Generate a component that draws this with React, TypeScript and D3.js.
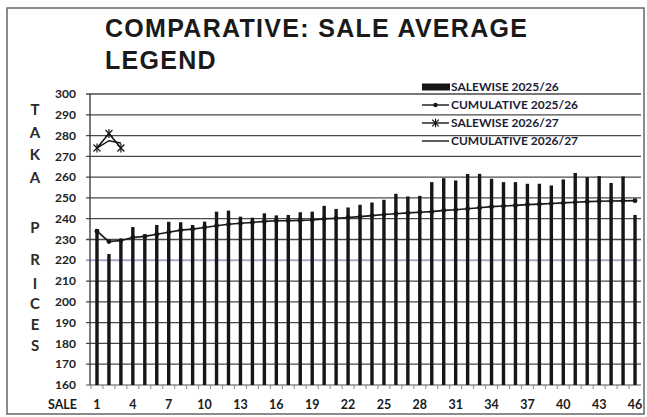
import * as d3 from 'd3';

// sale numbers 1..46
const sales = d3.range(1, 47);
const xTickSales = [1, 4, 7, 10, 13, 16, 19, 22, 25, 28, 31, 34, 37, 40, 43, 46];
const yTicks = [160, 170, 180, 190, 200, 210, 220, 230, 240, 250, 260, 270, 280, 290, 300];

// SALEWISE 2025/26 (bars)
const salewise2526 = [
  235, 223, 229, 236, 232.5, 237, 238.5, 238.3, 237, 238.6,
  243.4, 243.9, 241, 240.5, 242.6, 241.6, 241.8, 243.1, 243.4, 246.2,
  244.7, 245.4, 246.7, 247.8, 249.1, 252, 250.7, 251, 257.6, 259.5,
  258.4, 261.5, 261.6, 259.2, 257.6, 257.6, 256.8, 256.8, 256, 258.9,
  262, 260, 260.5, 257.2, 260.3, 241.8,
];

// CUMULATIVE 2025/26
const cumulative2526 = [
  234, 229, 229.5, 231, 231.5, 232.5, 233.5, 234.5, 235, 235.8,
  236.6, 237.3, 237.8, 238.2, 238.7, 239, 239, 239.2, 239.4, 239.9,
  240.2, 240.6, 241, 241.5, 242, 242.4, 242.8, 243.1, 243.4, 244,
  244.3, 244.8, 245.3, 245.8, 246.1, 246.4, 246.8, 247, 247.3, 247.6,
  247.9, 248.2, 248.4, 248.5, 248.6, 248.7,
];

// 2026/27 season so far
const salewise2627 = [274, 281, 274];
const cumulative2627 = [274, 277.5, 276.4];

const legendItems = ['SALEWISE 2025/26', 'CUMULATIVE 2025/26', 'SALEWISE 2026/27', 'CUMULATIVE 2026/27'];
const axisLetters = ['T', 'A', 'K', 'A', 'P', 'R', 'I', 'C', 'E', 'S'];
const axisLetterY = [110, 133, 155, 178, 228, 260, 284, 304, 325, 346];

const width = 647;
const height = 417;
const plot = { left: 91, right: 641, top: 94, bottom: 385 };
const ink = '#161616';
const labelFont = 'Lato, "Open Sans", sans-serif';

export default function App() {
  const x = d3.scaleBand<number>().domain(sales).range([plot.left, plot.right]);
  const cx = (s: number) => (x(s) as number) + x.bandwidth() / 2;
  const y = d3.scaleLinear().domain([160, 300]).range([plot.bottom, plot.top]);

  const line = d3.line<number>()
    .x((_, i) => cx(sales[i]))
    .y(d => y(d));

  const asterisk = (px: number, py: number, r: number, key: string) => (
    <g key={key} stroke={ink} strokeWidth={1.2}>
      <line x1={px - r} y1={py - r} x2={px + r} y2={py + r} />
      <line x1={px - r} y1={py + r} x2={px + r} y2={py - r} />
      <line x1={px} y1={py - r - 1} x2={px} y2={py + r + 1} />
    </g>
  );

  const legendX = 422;
  const legendY = [87, 105, 123, 141];

  return (
    <svg width={width} height={height} style={{ position: 'absolute', left: 0, top: 0, background: '#fff' }}>
      <rect x={7} y={8} width={637} height={406} fill="#fff" stroke="#666" strokeWidth={1.5} />

      {/* title */}
      <text x={105} y={37} fontFamily='"Liberation Sans", Arial, sans-serif' fontWeight="bold"
        fontSize={25} letterSpacing={1.3} fill="#1a1a1a">COMPARATIVE: SALE AVERAGE</text>
      <text x={105} y={69} fontFamily='"Liberation Sans", Arial, sans-serif' fontWeight="bold"
        fontSize={25} letterSpacing={1.3} fill="#1a1a1a">LEGEND</text>

      {/* horizontal grid */}
      {yTicks.map(t => (
        <g key={t}>
          <line x1={plot.left - 5} x2={plot.right} y1={y(t)} y2={y(t)}
            stroke={t === 220 ? '#a7abc9' : t === 160 ? '#8a8a8a' : '#4a4a4a'} strokeWidth={t === 220 ? 2 : 1.3} />
          <text x={76} y={y(t)} dy="0.35em" textAnchor="end" fontFamily={labelFont} fontWeight="bold"
            fontSize={12} fill="#222">{t}</text>
        </g>
      ))}
      <line x1={plot.left - 1} x2={plot.left - 1} y1={plot.top} y2={plot.bottom} stroke="#333" strokeWidth={1.3} />

      {/* x ticks */}
      {sales.map(s => (
        <line key={s} x1={x(s) as number} x2={x(s) as number} y1={plot.bottom} y2={plot.bottom + 4}
          stroke="#888" strokeWidth={1} />
      ))}
      {xTickSales.map(s => (
        <text key={s} x={cx(s)} y={409} textAnchor="middle" fontFamily={labelFont} fontWeight="bold"
          fontSize={12.5} fill="#1a1a1a">{s}</text>
      ))}
      <text x={77} y={409} textAnchor="end" fontFamily={labelFont} fontWeight="bold" fontSize={12.5} fill="#1a1a1a">SALE</text>

      {/* y axis title letters */}
      {axisLetters.map((l, i) => (
        <text key={i} x={35} y={axisLetterY[i]} dy="0.35em" textAnchor="middle" fontFamily={labelFont}
          fontWeight="bold" fontSize={15} fill="#2a2a2a">{l}</text>
      ))}

      {/* salewise 2025/26 bars */}
      {salewise2526.map((v, i) => (
        <rect key={i} x={cx(sales[i]) - 1.7} width={3.4} y={y(v)} height={y(160) - y(v)} fill={ink} />
      ))}

      {/* cumulative 2025/26 */}
      <path d={line(cumulative2526) ?? ''} fill="none" stroke={ink} strokeWidth={1.6} />
      {cumulative2526.map((v, i) => (
        <circle key={i} cx={cx(sales[i])} cy={y(v)} r={2.4} fill={ink} />
      ))}

      {/* 2026/27 */}
      <path d={line(cumulative2627) ?? ''} fill="none" stroke={ink} strokeWidth={1.4} />
      <path d={line(salewise2627) ?? ''} fill="none" stroke={ink} strokeWidth={1.6} />
      {salewise2627.map((v, i) => asterisk(cx(sales[i]), y(v), 3.5, 'a' + i))}

      {/* legend */}
      <g fontFamily={labelFont} fontWeight="bold" fontSize={12} fill="#1c1c38">
        <rect x={legendX} y={legendY[0] - 3.5} width={28} height={7} fill={ink} />
        <line x1={legendX} x2={legendX + 27} y1={legendY[1]} y2={legendY[1]} stroke={ink} strokeWidth={1.4} />
        <circle cx={legendX + 13.5} cy={legendY[1]} r={2.2} fill={ink} />
        <line x1={legendX} x2={legendX + 27} y1={legendY[2]} y2={legendY[2]} stroke={ink} strokeWidth={1.4} />
        {asterisk(legendX + 13.5, legendY[2], 3.3, 'leg')}
        <line x1={legendX} x2={legendX + 27} y1={legendY[3]} y2={legendY[3]} stroke={ink} strokeWidth={1.4} />
        {legendItems.map((t, i) => (
          <text key={t} x={legendX + 29} y={legendY[i]} dy="0.36em">{t}</text>
        ))}
      </g>
    </svg>
  );
}
